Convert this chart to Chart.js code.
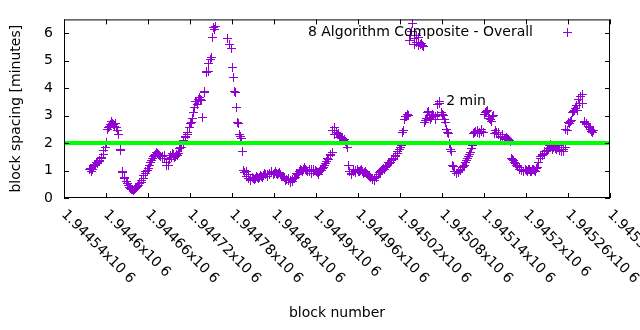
<!DOCTYPE html>
<html>
<head>
<meta charset="utf-8">
<script src="https://cdn.jsdelivr.net/npm/chart.js"></script>
<style>
  html, body { margin: 0; padding: 0; background: #fff; }
</style>
</head>
<body>
<canvas id="spacingChart" width="640" height="330"></canvas>
<script>
/* ---------- DATA ---------- */

const seriesLabel = "8 Algorithm Composite - Overall";
const targetLabel = "2 min";
const targetMinutes = 2;

// block numbers and spacing (two interleaved passes)
const blocks = [
  1944576,1944579,1944582,1944585,1944588,1944591,1944594,1944597,1944600,1944603,
  1944606,1944609,1944612,1944615,1944618,1944621,1944624,1944627,1944630,1944633,
  1944636,1944639,1944642,1944645,1944648,1944651,1944654,1944657,1944660,1944663,
  1944666,1944669,1944672,1944675,1944678,1944681,1944684,1944687,1944690,1944693,
  1944696,1944699,1944702,1944705,1944708,1944711,1944714,1944717,1944720,1944723,
  1944726,1944729,1944732,1944735,1944738,1944741,1944744,1944747,1944750,1944753,
  1944756,
  1944774,1944777,1944779,
  1944780,1944783,1944786,1944789,1944792,1944795,1944798,1944801,1944804,1944807,
  1944810,1944813,1944816,1944819,1944822,1944825,1944828,1944831,1944834,1944837,
  1944840,1944843,1944846,1944849,1944852,1944855,1944858,1944861,1944864,1944867,
  1944870,1944873,1944876,1944879,1944882,1944885,1944888,1944891,1944894,1944897,
  1944900,1944903,1944906,1944909,1944912,1944915,1944918,1944921,1944924,1944927,
  1944930,1944933,1944936,1944939,1944942,1944945,1944948,1944951,1944954,1944957,
  1944960,1944963,1944966,1944969,1944972,1944975,1944978,1944981,1944984,1944987,
  1944990,1944993,1944996,1944999,1945002,1945005,1945008,1945011,1945014,1945017,
  1945020,1945023,1945026,1945029,1945032,1945035,1945038,1945041,1945044,1945047,
  1945050,1945053,1945056,1945059,1945062,1945065,1945068,1945071,1945074,1945077,
  1945080,1945083,1945086,1945089,1945092,1945095,1945098,1945101,1945104,1945107,
  1945110,1945113,1945116,1945119,1945122,1945125,1945128,1945131,1945134,1945137,
  1945140,1945143,1945146,1945149,1945152,1945155,1945158,1945161,1945164,1945167,
  1945170,1945173,1945176,1945179,1945182,1945185,1945188,1945191,1945194,1945197,
  1945200,1945203,1945206,1945209,1945212,1945215,1945218,1945221,1945224,1945227,
  1945230,1945233,1945236,1945239,1945242,1945245,1945248,1945251,1945254,1945257,
  1945260,1945263,1945266,1945269,1945272,1945275,1945278,1945281,1945284,1945287,
  1945290,1945293,1945296,
  // second pass
  1944578,1944581,1944584,1944587,1944590,1944593,1944596,1944599,1944602,1944605,
  1944608,1944611,1944614,1944617,1944620,1944623,1944626,1944629,1944632,1944635,
  1944638,1944641,1944644,1944647,1944650,1944653,1944656,1944659,1944662,1944665,
  1944668,1944671,1944674,1944677,1944680,1944683,1944686,1944689,1944692,1944695,
  1944698,1944701,1944704,1944707,1944710,1944713,1944716,1944719,1944722,1944725,
  1944728,1944731,1944734,1944737,1944740,1944743,1944746,1944749,1944752,1944755,
  1944782,1944785,1944788,1944791,1944794,1944797,1944800,1944803,1944806,1944809,
  1944812,1944815,1944818,1944821,1944824,1944827,1944830,1944833,1944836,1944839,
  1944842,1944845,1944848,1944851,1944854,1944857,1944860,1944863,1944866,1944869,
  1944872,1944875,1944878,1944881,1944884,1944887,1944890,1944893,1944896,1944899,
  1944902,1944905,1944908,1944911,1944914,1944917,1944920,1944923,1944926,1944929,
  1944932,1944935,1944938,1944941,1944944,1944947,1944950,1944953,1944956,1944959,
  1944962,1944965,1944968,1944971,1944974,1944977,1944980,1944983,1944986,1944989,
  1944992,1944995,1944998,1945001,1945004,1945007,1945010,1945013,1945016,1945019,
  1945022,1945025,1945028,1945031,1945034,1945037,1945040,1945043,1945046,1945049,
  1945052,1945055,1945058,1945061,1945064,1945067,1945070,1945073,1945076,1945079,
  1945082,1945085,1945088,1945091,1945094,1945097,1945100,1945103,1945106,1945109,
  1945112,1945115,1945118,1945121,1945124,1945127,1945130,1945133,1945136,1945139,
  1945142,1945145,1945148,1945151,1945154,1945157,1945160,1945163,1945166,1945169,
  1945172,1945175,1945178,1945181,1945184,1945187,1945190,1945193,1945196,1945199,
  1945202,1945205,1945208,1945211,1945214,1945217,1945220,1945223,1945226,1945229,
  1945232,1945235,1945238,1945241,1945244,1945247,1945250,1945253,1945256,1945259,
  1945262,1945265,1945268,1945271,1945274,1945277,1945280,1945283,1945286,1945289,
  1945292,1945295
];

const minutes = [
  1.02,0.98,1.15,1.18,1.25,1.38,1.48,1.72,2.02,2.55,
  2.68,2.72,2.62,2.55,2.32,1.72,0.92,0.70,0.52,0.40,
  0.32,0.28,0.35,0.42,0.52,0.62,0.82,0.95,1.08,1.28,
  1.42,1.55,1.65,1.58,1.52,1.45,1.42,1.18,1.40,1.48,
  1.58,1.52,1.55,1.80,1.82,2.10,2.25,2.40,2.70,2.90,
  3.28,3.52,3.58,3.60,2.92,3.88,4.58,4.90,5.10,6.20,
  6.25,
  5.80,5.60,5.45,
  4.75,3.88,3.30,2.70,2.25,1.68,0.92,0.80,0.72,0.65,
  0.70,0.70,0.74,0.76,0.78,0.82,0.84,0.87,0.90,0.91,
  0.90,0.90,0.88,0.86,0.80,0.73,0.68,0.63,0.62,0.60,
  0.75,0.85,0.95,1.00,1.02,1.03,0.98,0.96,1.02,0.97,
  0.98,0.86,1.02,1.07,1.18,1.32,1.40,1.55,2.45,2.32,
  2.30,2.22,2.20,2.10,2.05,1.85,0.95,0.88,0.97,1.00,
  0.98,1.00,0.98,0.94,0.88,0.82,0.74,0.68,0.70,0.80,
  0.92,0.99,1.08,1.12,1.20,1.24,1.35,1.45,1.55,1.68,
  1.82,2.40,2.85,2.98,3.00,5.90,6.35,5.80,5.92,5.55,
  5.62,5.50,2.82,3.12,3.00,2.92,3.02,2.95,3.42,3.45,
  3.05,2.85,2.50,2.35,1.75,1.20,0.95,0.88,0.96,1.05,
  1.15,1.30,1.42,1.58,1.80,2.35,2.42,2.38,2.38,2.42,
  3.05,3.15,2.98,2.85,2.95,2.35,2.40,2.30,2.22,2.20,
  2.12,2.18,2.08,1.45,1.35,1.25,1.15,1.02,1.00,0.97,
  1.00,1.02,0.97,1.02,1.00,1.08,1.30,1.50,1.60,1.68,
  1.74,1.92,1.88,1.82,1.80,1.85,1.72,1.82,1.70,2.50,
  2.75,2.78,3.12,3.20,3.35,3.60,3.70,3.45,2.75,2.68,
  2.55,2.42,2.45,
  // second pass
  1.08,1.05,1.22,1.30,1.32,1.45,1.58,1.85,2.48,2.62,
  2.78,2.66,2.70,2.45,1.78,0.98,0.75,0.60,0.45,0.36,
  0.30,0.30,0.38,0.46,0.58,0.70,0.90,1.00,1.20,1.35,
  1.50,1.60,1.62,1.55,1.50,1.55,1.30,1.20,1.55,1.62,
  1.48,1.60,1.62,1.85,2.00,2.20,2.30,2.55,2.75,3.10,
  3.50,3.40,3.65,3.55,3.85,4.62,4.60,5.05,5.85,6.15,
  4.40,3.85,2.75,2.30,2.15,1.00,0.95,0.85,0.68,0.75,
  0.66,0.78,0.72,0.82,0.76,0.88,0.80,0.86,0.95,0.86,
  0.95,0.84,0.92,0.78,0.80,0.65,0.70,0.55,0.68,0.72,
  0.90,0.90,1.05,0.95,1.10,1.00,1.05,0.90,1.05,1.00,
  0.92,0.95,1.00,1.12,1.25,1.45,1.60,1.65,2.55,2.38,
  2.35,2.25,2.15,2.12,1.95,1.20,0.85,1.05,0.92,1.05,
  0.95,1.04,0.90,0.95,0.85,0.78,0.72,0.62,0.76,0.86,
  0.95,1.03,1.05,1.15,1.28,1.30,1.40,1.50,1.62,1.75,
  1.90,2.45,2.95,3.05,5.75,6.05,5.60,5.65,5.85,5.60,
  5.55,2.75,2.90,3.15,2.85,3.05,2.85,3.02,3.50,3.10,
  3.00,2.75,2.40,2.00,1.70,1.15,0.90,0.92,1.00,1.12,
  1.20,1.36,1.50,1.65,1.90,2.40,2.45,2.35,2.48,2.40,
  3.10,3.20,2.90,2.80,3.00,2.45,2.38,2.25,2.30,2.15,
  2.20,2.12,2.05,1.40,1.30,1.20,1.10,1.05,0.95,1.04,
  0.98,1.05,0.95,1.05,0.98,1.12,1.45,1.55,1.62,1.70,
  1.80,1.95,1.78,1.88,1.75,1.90,1.68,1.78,1.85,2.45,
  2.72,2.82,3.15,3.25,3.20,3.45,3.78,2.80,2.70,2.62,
  2.50,2.38
];

const xTicks = [1944540,1944600,1944660,1944720,1944780,1944840,1944900,
                1944960,1945020,1945080,1945140,1945200,1945260,1945320];
const xTickLabels = ["1.94454x10 6","1.9446x10 6","1.94466x10 6","1.94472x10 6",
                     "1.94478x10 6","1.94484x10 6","1.9449x10 6","1.94496x10 6",
                     "1.94502x10 6","1.94508x10 6","1.94514x10 6","1.9452x10 6",
                     "1.94526x10 6","1.94532x10 6"];
const yTicks = [0,1,2,3,4,5,6];
const yMax = 6.5;

// where the "2 min" note sits, in data units
const targetNoteAt = { x: 1945086, y: 3.5 };

/* ---------- STYLE ---------- */

const FONT = '"DejaVu Sans", sans-serif';
const PURPLE = '#9400d3';
const GREEN = '#00ff00';

// crisp 9px "+" used as the point marker
const crossMark = document.createElement('canvas');
crossMark.width = 9;
crossMark.height = 9;
{
  const c = crossMark.getContext('2d');
  c.fillStyle = PURPLE;
  c.fillRect(0, 4, 9, 1);
  c.fillRect(4, 0, 1, 9);
}

/* ---------- FRAME, TICKS, ROTATED LABELS, KEY ---------- */

const gnuplotFrame = {
  id: 'gnuplotFrame',
  beforeDatasetsDraw(chart) {
    chart.ctx.imageSmoothingEnabled = false;
  },
  afterDraw(chart) {
    const { ctx, chartArea: a, scales: { x, y } } = chart;
    ctx.save();

    ctx.strokeStyle = '#000';
    ctx.lineWidth = 1;
    ctx.strokeRect(a.left + 0.5, a.top + 0.5, a.right - a.left - 1, a.bottom - a.top - 1);

    // inward ticks on all four sides
    const tl = 5;
    ctx.beginPath();
    xTicks.forEach(v => {
      const px = Math.round(x.getPixelForValue(v)) + 0.5;
      ctx.moveTo(px, a.bottom);
      ctx.lineTo(px, a.bottom - tl);
      ctx.moveTo(px, a.top);
      ctx.lineTo(px, a.top + tl);
    });
    yTicks.forEach(v => {
      const py = Math.round(y.getPixelForValue(v)) + 0.5;
      ctx.moveTo(a.left, py);
      ctx.lineTo(a.left + tl, py);
      ctx.moveTo(a.right, py);
      ctx.lineTo(a.right - tl, py);
    });
    ctx.stroke();

    // x tick labels, rotated down to the right
    ctx.fillStyle = '#000';
    ctx.font = '14px ' + FONT;
    ctx.textAlign = 'left';
    ctx.textBaseline = 'alphabetic';
    xTicks.forEach((v, i) => {
      const px = x.getPixelForValue(v);
      ctx.save();
      ctx.translate(px - 3, a.bottom + 17);
      ctx.rotate(Math.PI / 4);
      ctx.fillText(xTickLabels[i], 0, 0);
      ctx.restore();
    });

    // key, top right inside the plot
    ctx.textAlign = 'right';
    ctx.fillText(seriesLabel, 533, 36);
    ctx.drawImage(crossMark, 563, 28);

    // "2 min" note
    ctx.textAlign = 'left';
    ctx.textBaseline = 'middle';
    ctx.fillText(targetLabel, x.getPixelForValue(targetNoteAt.x), y.getPixelForValue(targetNoteAt.y));

    ctx.restore();
  }
};

/* ---------- CHART ---------- */

new Chart(document.getElementById('spacingChart'), {
  type: 'scatter',
  data: {
    datasets: [
      {
        label: targetLabel,
        data: [
          { x: xTicks[0], y: targetMinutes },
          { x: xTicks[xTicks.length - 1], y: targetMinutes }
        ],
        showLine: true,
        borderColor: GREEN,
        borderWidth: 4,
        pointRadius: 0,
        order: 0
      },
      {
        label: seriesLabel,
        data: blocks.map((b, i) => ({ x: b, y: minutes[i] })),
        pointStyle: crossMark,
        pointRadius: 4.5,
        borderColor: PURPLE,
        backgroundColor: PURPLE,
        borderWidth: 1,
        order: 1
      }
    ]
  },
  options: {
    responsive: false,
    animation: false,
    events: [],
    layout: { padding: { top: 19, right: 30, left: 0, bottom: 0 } },
    plugins: {
      legend: { display: false },
      tooltip: { enabled: false }
    },
    scales: {
      x: {
        type: 'linear',
        min: xTicks[0],
        max: xTicks[xTicks.length - 1],
        afterBuildTicks: s => { s.ticks = xTicks.map(v => ({ value: v })); },
        afterFit: s => { s.height = 132; },
        ticks: { display: false },
        grid: { display: false, drawTicks: false },
        border: { display: false },
        title: {
          display: true,
          text: 'block number',
          color: '#000',
          font: { family: FONT, size: 14 },
          padding: { top: 0, bottom: 8 }
        }
      },
      y: {
        min: 0,
        max: yMax,
        afterBuildTicks: s => { s.ticks = yTicks.map(v => ({ value: v })); },
        afterFit: s => { s.width = 64; },
        ticks: {
          color: '#000',
          font: { family: FONT, size: 14 },
          padding: 11
        },
        grid: { display: false, drawTicks: false },
        border: { display: false },
        title: {
          display: true,
          text: 'block spacing [minutes]',
          color: '#000',
          font: { family: FONT, size: 14 },
          padding: { top: 8, bottom: 0 }
        }
      }
    }
  },
  plugins: [gnuplotFrame]
});
</script>
</body>
</html>
